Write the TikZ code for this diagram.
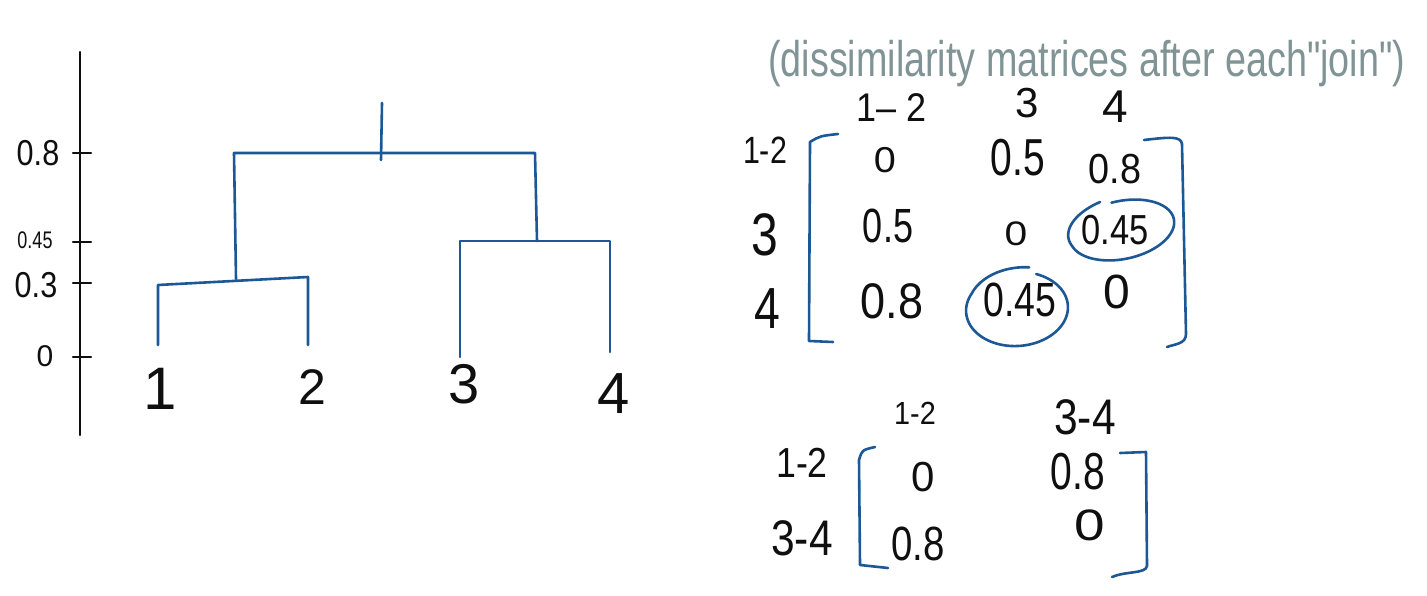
\documentclass[tikz,border=0pt]{standalone}
\usepackage{fontspec}
\setmainfont{Liberation Sans}
\newfontfamily\plainsans{Liberation Sans}
\usepackage{graphicx}
\definecolor{penblue}{RGB}{28,88,150}
\definecolor{pengray}{RGB}{128,148,150}
\definecolor{penblack}{RGB}{15,15,15}
\newcommand{\sqz}[2]{\scalebox{#1}[1]{#2}}
\tikzset{
  bl/.style={draw=penblue, line width=2.6pt, line cap=round, line join=round},
  ax/.style={draw=penblack, line width=2.2pt, line cap=round},
  lbl/.style={inner sep=0pt, text=penblack, font=\fontsize{#1}{#1}\selectfont},
  lbl/.default=42,
}
\begin{document}
\begin{tikzpicture}[x=1pt,y=-1pt]
\useasboundingbox (0,0) rectangle (1427,596);
\fill[white] (0,0) rectangle (1427,596);

% ---- axis ----
\coordinate (axtop) at (80,52);
\coordinate (axbot) at (80,435);
\draw[ax] (axtop) -- (axbot);
\foreach \yy/\nm in {153/t08, 242/t045, 283/t03, 357/t0}{
  \coordinate (\nm l) at (73,\yy);
  \coordinate (\nm r) at (91,\yy);
  \draw[ax] (\nm l) -- (\nm r);
}
\node[lbl=36] (l08) at (38,153) {\sqz{0.85}{0.8}};
\node[lbl=24] (l045) at (35,240) {\sqz{0.75}{0.45}};
\node[lbl=36] (l03) at (36,285) {\sqz{0.85}{0.3}};
\node[lbl=30] (l0) at (45,356) {0};

% ---- dendrogram ----
\coordinate (d1) at (158,345);
\coordinate (d1t) at (158,285);
\coordinate (d2) at (308,345);
\coordinate (d2t) at (308,277);
\coordinate (m12) at (236,279);
\coordinate (m12t) at (234,153);
\coordinate (d3) at (460,357);
\coordinate (d3t) at (460,241);
\coordinate (d4) at (610,352);
\coordinate (d4t) at (610,241);
\coordinate (m34) at (537,241);
\coordinate (m34t) at (535,153);
\coordinate (rootb) at (381,160);
\coordinate (roott) at (382,103);
\draw[bl] (d1) -- (d1t) -- (d2t) -- (d2);
\draw[bl] (m12) -- (m12t) -- (m34t) -- (m34);
\draw[bl] (d3) -- (d3t) -- (d4t) -- (d4);
\draw[bl] (rootb) -- (roott);

\node[lbl=60] (n1) at (160,389) {1};
\node[lbl=50] (n2) at (312,387) {2};
\node[lbl=56] (n3) at (464,384) {3};
\node[lbl=58] (n4) at (614,394) {4};

% ---- title ----
\node[inner sep=0pt, anchor=base west, text=pengray, font=\plainsans\fontsize{50}{50}\selectfont] (title) at (768,77)
  {\resizebox{637pt}{\height}{(dissimilarity matrices after each"join")}};

% ---- matrix 1 ----
\node[lbl=40] (c12) at (892,108) {\sqz{0.9}{1– 2}};
\node[lbl=42] (c3) at (1027,103) {3};
\node[lbl=46] (c4) at (1115,107) {4};
\node[lbl=38] (r12) at (765,150) {\sqz{0.8}{1-2}};
\node[lbl=60] (r3) at (765,235) {\sqz{0.8}{3}};
\node[lbl=58] (r4) at (767,309) {\sqz{0.8}{4}};

\node[lbl=36] (a11) at (885,160) {\sqz{1.1}{0}};
\node[lbl=52] (a12) at (1018,158) {\sqz{0.75}{0.5}};
\node[lbl=42] (a13) at (1115,169) {\sqz{0.9}{0.8}};
\node[lbl=48] (a21) at (888,226) {\sqz{0.75}{0.5}};
\node[lbl=34] (a22) at (1016,234) {\sqz{1.2}{0}};
\node[lbl=42] (a23) at (1115,230) {\sqz{0.82}{0.45}};
\node[lbl=50] (a31) at (892,301) {\sqz{0.9}{0.8}};
\node[lbl=48] (a32) at (1020,300) {\sqz{0.78}{0.45}};
\node[lbl=48] (a33) at (1117,292) {0};

% circles
\draw[bl, rotate around={12:(1122,230)}]
  plot[domain=105:455, samples=90, smooth]
  ({1122+53*cos(\x)*(1+0.14*max(0,(190-\x)/85))},
   {230-29*sin(\x)*(1+0.14*max(0,(190-\x)/85))});
\draw[bl, rotate around={4:(1017,309)}]
  plot[domain=75:425, samples=90, smooth]
  ({1017+51*cos(\x)*(1+0.14*max(0,(150-\x)/75))},
   {309-37*sin(\x)*(1+0.14*max(0,(150-\x)/75))});

% brackets
\coordinate (lb1a) at (838,134);
\coordinate (lb1b) at (810,142);
\coordinate (lb1c) at (809,341);
\coordinate (lb1d) at (833,342);
\draw[bl] (lb1a) .. controls (820,136) .. (lb1b) -- (lb1c) -- (lb1d);
\coordinate (rb1a) at (1144,140);
\coordinate (rb1b) at (1182,144);
\coordinate (rb1c) at (1186,334);
\coordinate (rb1d) at (1167,347);
\draw[bl] (rb1a) .. controls (1170,137) and (1181,136) .. (rb1b) -- (rb1c) .. controls (1186,344) and (1175,344) .. (rb1d);

% ---- matrix 2 ----
\node[lbl=32] (c12b) at (915,413) {\sqz{0.9}{1-2}};
\node[lbl=50] (c34b) at (1085,417) {\sqz{0.85}{3-4}};
\node[lbl=42] (r12b) at (802,463) {\sqz{0.85}{1-2}};
\node[lbl=50] (r34b) at (802,538) {\sqz{0.85}{3-4}};
\node[lbl=42] (b11) at (923,477) {0};
\node[lbl=52] (b12) at (1078,472) {\sqz{0.75}{0.8}};
\node[lbl=48] (b21) at (918,544) {\sqz{0.8}{0.8}};
\node[lbl=44] (b22) at (1090,525) {\sqz{1.25}{0}};

\coordinate (lb2a) at (875,447);
\coordinate (lb2b) at (859,460);
\coordinate (lb2c) at (860,565);
\coordinate (lb2d) at (888,568);
\draw[bl] (lb2a) .. controls (862,450) .. (lb2b) -- (lb2c) -- (lb2d);
\coordinate (rb2a) at (1120,453);
\coordinate (rb2b) at (1146,452);
\coordinate (rb2c) at (1147,566);
\coordinate (rb2d) at (1112,577);
\draw[bl] (rb2a) -- (rb2b) -- (rb2c) .. controls (1146,574) and (1125,571) .. (rb2d);
\end{tikzpicture}
\end{document}
